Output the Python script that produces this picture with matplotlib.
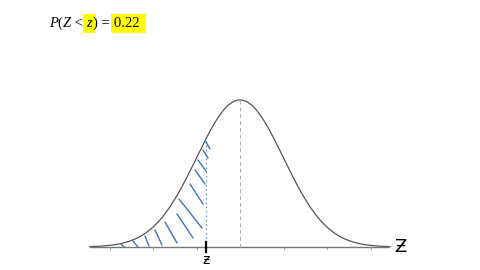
import math

import matplotlib

matplotlib.use("Agg")
import matplotlib.pyplot as plt
import numpy as np

# values
prob = 0.22
z_crit = -0.772          # z with P(Z < z) = 0.22
z_span = 3.45            # curve drawn from -z_span to +z_span
sd_ticks = [-3, -2, -1, 1, 2, 3]

# hand-drawn hatch strokes under the left tail: (start z, start y) -> (end z, end y)
hatch_x0 = [-2.736, -2.460, -2.184, -1.954, -1.724, -1.448, -1.402, -1.149, -1.034, -0.966, -0.851, -0.782]
hatch_y0 = [0.0081, 0.0163, 0.0299, 0.0461, 0.0678, 0.0896, 0.1303, 0.1710, 0.2090, 0.2361, 0.2632, 0.2849]
hatch_x1 = [-2.667, -2.345, -2.092, -1.793, -1.448, -1.080, -0.874, -0.851, -0.805, -0.782, -0.736, -0.690]
hatch_y1 = [0.0, 0.0, 0.0027, 0.0054, 0.0109, 0.0244, 0.0516, 0.1167, 0.1710, 0.2063, 0.2415, 0.2659]

# title pieces: (text, italic, highlighted)
title_parts = [("P", True, False), ("(", False, False), ("Z", True, False),
               (" < ", False, False), ("z", True, True), (") = ", False, False),
               (f"{prob:.2f} ", False, True)]


def pdf(x):
    return np.exp(-0.5 * x ** 2) / math.sqrt(2 * math.pi)


fig = plt.figure(figsize=(4.8, 2.7), dpi=100)
ax = fig.add_axes([0, 0, 1, 1])
ax.set_xlim(-240 / 43.5, 240 / 43.5)
ax.set_ylim(-23 / 368.5, 247 / 368.5)
ax.axis("off")

xs = np.linspace(-z_span, z_span, 400)
ax.plot(xs, pdf(xs), color="#555555", lw=0.9)
ax.plot([-z_span, z_span - 0.05], [0, 0], color="#777777", lw=1.0)
for t in sd_ticks:
    ax.plot([t, t], [-0.006, 0.0], color="#888888", lw=0.6)

# mean line and z line
ax.plot([0, 0], [0, pdf(0)], color="#aaaaaa", lw=0.7, ls=(0, (4, 3)))
ax.plot([z_crit, z_crit], [0, pdf(z_crit) - 0.005], color="#4a7cc7", lw=0.9,
        ls=(0, (1, 2.5)))
ax.plot([z_crit, z_crit], [-0.013, 0.013], color="black", lw=1.6)

for x0, y0, x1, y1 in zip(hatch_x0, hatch_y0, hatch_x1, hatch_y1):
    ax.plot([x0, x1], [y0, y1], color="#3f72c0", lw=1.0, solid_capstyle="round")

ax.text(z_crit, -0.016, "ƶ", ha="center", va="top", fontsize=10,
        family="DejaVu Sans")
ax.text(3.68, 0.0, "Ƶ", ha="center", va="center", fontsize=13,
        family="DejaVu Sans")

# title with highlighted pieces, laid out left to right
renderer = fig.canvas.get_renderer()
x_px = 49
for txt, italic, hl in title_parts:
    kw = dict(fontsize=10.5, family="Liberation Serif",
              style="italic" if italic else "normal", va="baseline", ha="left")
    if hl:
        kw["bbox"] = dict(boxstyle="square,pad=0.2", fc="#ffff00", ec="none")
    t = fig.text(x_px / 480, 1 - 27 / 270, txt, **kw)
    t.set_bbox(None) if not hl else None
    bb = t.get_window_extent(renderer)
    x_px += bb.width + (1 if hl else 0)

fig.savefig("out.png", dpi=100)
